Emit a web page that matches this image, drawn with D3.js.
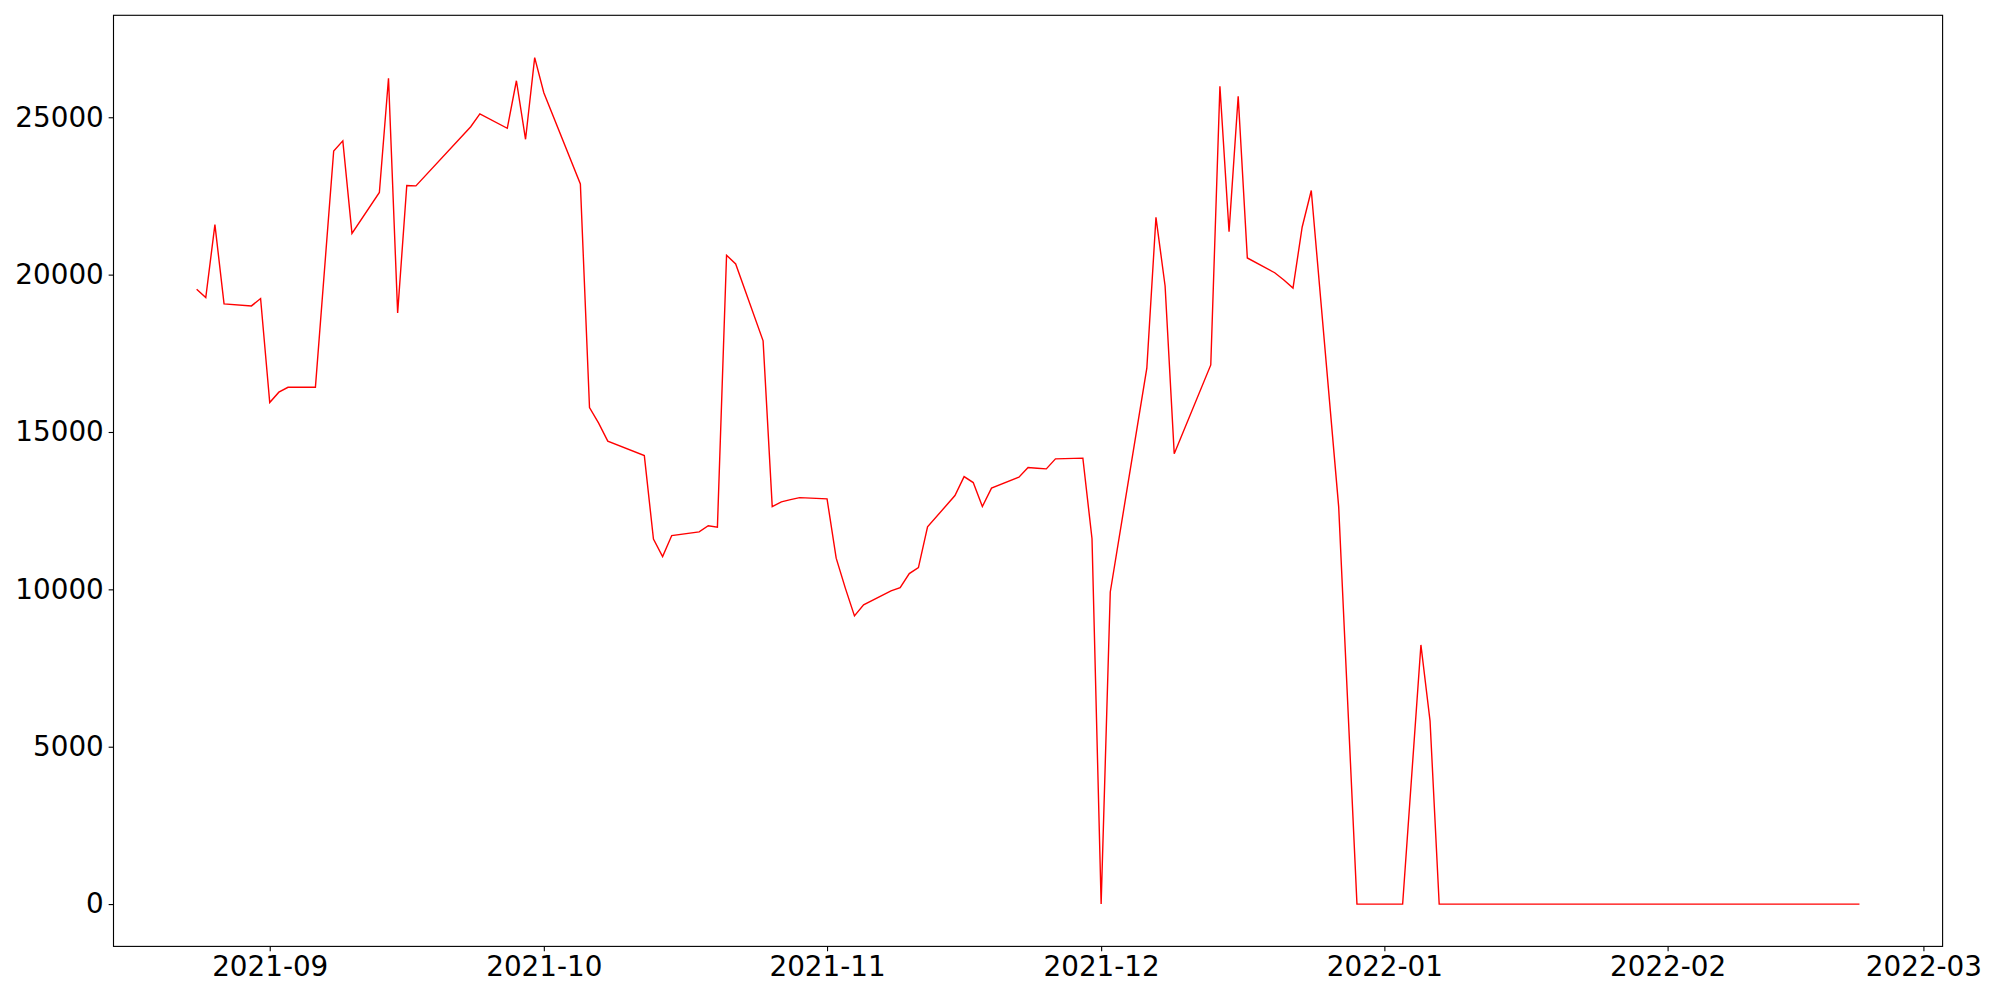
<!DOCTYPE html>
<html>
<head>
<meta charset="utf-8">
<script src="https://cdn.jsdelivr.net/npm/d3@7"></script>
<style>
  html, body { margin: 0; padding: 0; background: #fff; }
  svg { display: block; }
  text { font-family: "DejaVu Sans", sans-serif; fill: #000; }
</style>
</head>
<body>
<svg id="chart" width="2000" height="1000"></svg>
<script>
const dates = [
  "2021-08-24","2021-08-25","2021-08-26","2021-08-27","2021-08-30","2021-08-31",
  "2021-09-01","2021-09-02","2021-09-03","2021-09-06","2021-09-08","2021-09-09","2021-09-10",
  "2021-09-13","2021-09-14","2021-09-15","2021-09-16","2021-09-17","2021-09-23","2021-09-24",
  "2021-09-27","2021-09-28","2021-09-29","2021-09-30","2021-10-01","2021-10-05","2021-10-06",
  "2021-10-07","2021-10-08","2021-10-12","2021-10-13","2021-10-14","2021-10-15","2021-10-18",
  "2021-10-19","2021-10-20","2021-10-21","2021-10-22","2021-10-25","2021-10-26","2021-10-27",
  "2021-10-28","2021-10-29","2021-11-01","2021-11-02","2021-11-03","2021-11-04","2021-11-05",
  "2021-11-08","2021-11-09","2021-11-10","2021-11-11","2021-11-12","2021-11-15","2021-11-16",
  "2021-11-17","2021-11-18","2021-11-19","2021-11-22","2021-11-23","2021-11-24","2021-11-25",
  "2021-11-26","2021-11-29","2021-11-30","2021-12-01","2021-12-02","2021-12-06","2021-12-07",
  "2021-12-08","2021-12-09","2021-12-13","2021-12-14","2021-12-15","2021-12-16","2021-12-17",
  "2021-12-20","2021-12-21","2021-12-22","2021-12-23","2021-12-24","2021-12-27","2021-12-29",
  "2021-12-30","2021-12-31","2022-01-03","2022-01-05","2022-01-06","2022-01-07","2022-01-14",
  "2022-01-21","2022-01-28","2022-02-04","2022-02-11","2022-02-18","2022-02-22"
];
const values = [
  19536,19270,21590,19070,19006,19240,
  15935,16265,16420,16420,23930,24250,21310,
  22610,26240,18780,22830,22820,24700,25105,
  24650,26160,24300,26895,25780,22880,15775,
  15280,14710,14250,11595,11040,11710,11825,
  12020,11975,20615,20340,17895,12630,12780,
  12850,12915,12875,10990,10040,9158,9508,
  9952,10057,10502,10693,11985,12980,13583,
  13393,12630,13215,13564,13870,13850,13828,
  14146,14168,11607,0,9917,17027,21820,
  19640,14308,17130,25985,21366,25670,20530,
  20060,19832,19572,21506,22672,12620,0,
  0,0,0,8234,5816,0,0,
  0,0,0,0,0,0
];
const xTickLabels = ["2021-09","2021-10","2021-11","2021-12","2022-01","2022-02","2022-03"];
const yTicks = [0,5000,10000,15000,20000,25000];

const parse = d3.utcParse("%Y-%m-%d");
const parseMonth = d3.utcParse("%Y-%m");
const data = dates.map((d,i) => ({date: parse(d), value: values[i]}));

const plotLeft = 113.5, plotRight = 1942.6, plotTop = 15.3, plotBottom = 946.4;
const svg = d3.select("#chart");

const xExt = d3.extent(data, d => d.date);
const xPad = (xExt[1] - xExt[0]) * 0.05;
const x = d3.scaleUtc()
  .domain([new Date(+xExt[0] - xPad), new Date(+xExt[1] + xPad)])
  .range([plotLeft, plotRight]);

const yExt = d3.extent(data, d => d.value);
const yPad = (yExt[1] - yExt[0]) * 0.05;
const y = d3.scaleLinear()
  .domain([yExt[0] - yPad, yExt[1] + yPad])
  .range([plotBottom, plotTop]);

const fontSize = 27.8;
const tickLen = 4.86;

// line
const line = d3.line().x(d => x(d.date)).y(d => y(d.value));
svg.append("path")
  .datum(data)
  .attr("d", line)
  .attr("fill", "none")
  .attr("stroke", "#ff0000")
  .attr("stroke-width", 1.4)
  .attr("stroke-linejoin", "miter");

// x axis
const xTicks = xTickLabels.map(s => parseMonth(s));
const xAxis = d3.axisBottom(x)
  .tickValues(xTicks)
  .tickFormat((d,i) => xTickLabels[i])
  .tickSize(tickLen)
  .tickPadding(4.86);
const gx = svg.append("g").attr("transform", `translate(0,${plotBottom})`).call(xAxis);
gx.select(".domain").remove();
gx.selectAll(".tick line").attr("stroke", "#000").attr("stroke-width", 1.11);
gx.selectAll(".tick text").attr("font-size", fontSize).attr("font-family", "DejaVu Sans").attr("fill", "#000");

// y axis
const yAxis = d3.axisLeft(y)
  .tickValues(yTicks)
  .tickFormat(d3.format("d"))
  .tickSize(tickLen)
  .tickPadding(4.86);
const gy = svg.append("g").attr("transform", `translate(${plotLeft},0)`).call(yAxis);
gy.select(".domain").remove();
gy.selectAll(".tick line").attr("stroke", "#000").attr("stroke-width", 1.11);
gy.selectAll(".tick text").attr("font-size", fontSize).attr("font-family", "DejaVu Sans").attr("fill", "#000");

// frame
svg.append("rect")
  .attr("x", plotLeft).attr("y", plotTop)
  .attr("width", plotRight - plotLeft).attr("height", plotBottom - plotTop)
  .attr("fill", "none").attr("stroke", "#000").attr("stroke-width", 1.11);
</script>
</body>
</html>
